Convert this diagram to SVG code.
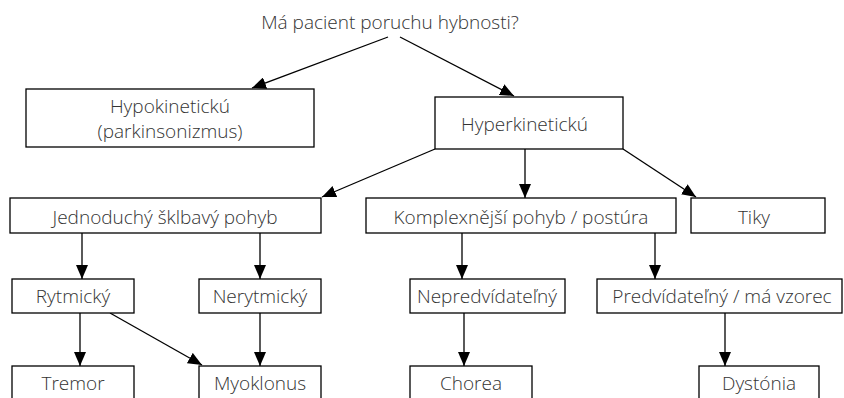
<svg xmlns="http://www.w3.org/2000/svg" width="844" height="398" viewBox="0 0 844 398">
<style>
  .box { fill: #fff; stroke: #000; stroke-width: 1.3; }
  .lbl { font-family: "Open Sans", "Liberation Sans", sans-serif; font-size: 19px; font-weight: 300; fill: #333; text-anchor: middle; }
  .edge { stroke: #000; stroke-width: 1.3; fill: none; marker-end: url(#ah); }
</style>
<defs>
  <marker id="ah" viewBox="0 0 14 12" refX="14" refY="6" markerWidth="14" markerHeight="12" markerUnits="userSpaceOnUse" orient="auto">
    <path d="M0,0 L14,6 L0,12 Z" fill="#000"/>
  </marker>
</defs>
<rect width="844" height="398" fill="#fff"/>
<g id="connectors">
  <line class="edge" x1="388" y1="37" x2="252" y2="88"/>
  <line class="edge" x1="400" y1="37" x2="514" y2="96"/>
  <line class="edge" x1="435" y1="149" x2="322" y2="197"/>
  <line class="edge" x1="525" y1="149" x2="525" y2="198"/>
  <line class="edge" x1="623" y1="149" x2="696" y2="197"/>
  <line class="edge" x1="82" y1="233" x2="82" y2="279"/>
  <line class="edge" x1="260" y1="233" x2="260" y2="279"/>
  <line class="edge" x1="462" y1="233" x2="462" y2="279"/>
  <line class="edge" x1="655" y1="233" x2="655" y2="279"/>
  <line class="edge" x1="80" y1="313" x2="80" y2="366"/>
  <line class="edge" x1="110" y1="313" x2="202" y2="365"/>
  <line class="edge" x1="260" y1="313" x2="260" y2="366"/>
  <line class="edge" x1="464" y1="313" x2="464" y2="366"/>
  <line class="edge" x1="725" y1="313" x2="725" y2="366"/>
</g>
<g id="title"><text class="lbl" x="390" y="29">Má pacient poruchu hybnosti?</text></g>
<g id="hypo"><rect class="box" x="26" y="89" width="288" height="58"/><text class="lbl" x="170" y="113">Hypokinetickú</text><text class="lbl" x="170" y="138">(parkinsonizmus)</text></g>
<g id="hyper"><rect class="box" x="435" y="97" width="188" height="52"/><text class="lbl" x="524.5" y="131">Hyperkinetickú</text></g>
<g id="jednoduchy"><rect class="box" x="10" y="198" width="311" height="35"/><text class="lbl" x="165" y="224">Jednoduchý šklbavý pohyb</text></g>
<g id="komplex"><rect class="box" x="366" y="198" width="310" height="35"/><text class="lbl" x="521" y="224">Komplexnější pohyb / postúra</text></g>
<g id="tiky"><rect class="box" x="691" y="198" width="134" height="35"/><text class="lbl" x="754" y="224">Tiky</text></g>
<g id="rytmicky"><rect class="box" x="12" y="279" width="122" height="34"/><text class="lbl" x="73" y="303">Rytmický</text></g>
<g id="nerytmicky"><rect class="box" x="199" y="279" width="122" height="34"/><text class="lbl" x="260" y="303">Nerytmický</text></g>
<g id="nepredvidatelny"><rect class="box" x="410" y="279" width="155" height="34"/><text class="lbl" x="487" y="303">Nepredvídateľný</text></g>
<g id="predvidatelny"><rect class="box" x="597" y="279" width="245" height="34"/><text class="lbl" x="722" y="303">Predvídateľný / má vzorec</text></g>
<g id="tremor"><rect class="box" x="12" y="366" width="122" height="40"/><text class="lbl" x="73" y="390">Tremor</text></g>
<g id="myoklonus"><rect class="box" x="199" y="366" width="122" height="40"/><text class="lbl" x="260" y="390">Myoklonus</text></g>
<g id="chorea"><rect class="box" x="410" y="366" width="122" height="40"/><text class="lbl" x="471" y="390">Chorea</text></g>
<g id="dystonia"><rect class="box" x="699" y="366" width="120" height="40"/><text class="lbl" x="759" y="390">Dystónia</text></g>
</svg>
